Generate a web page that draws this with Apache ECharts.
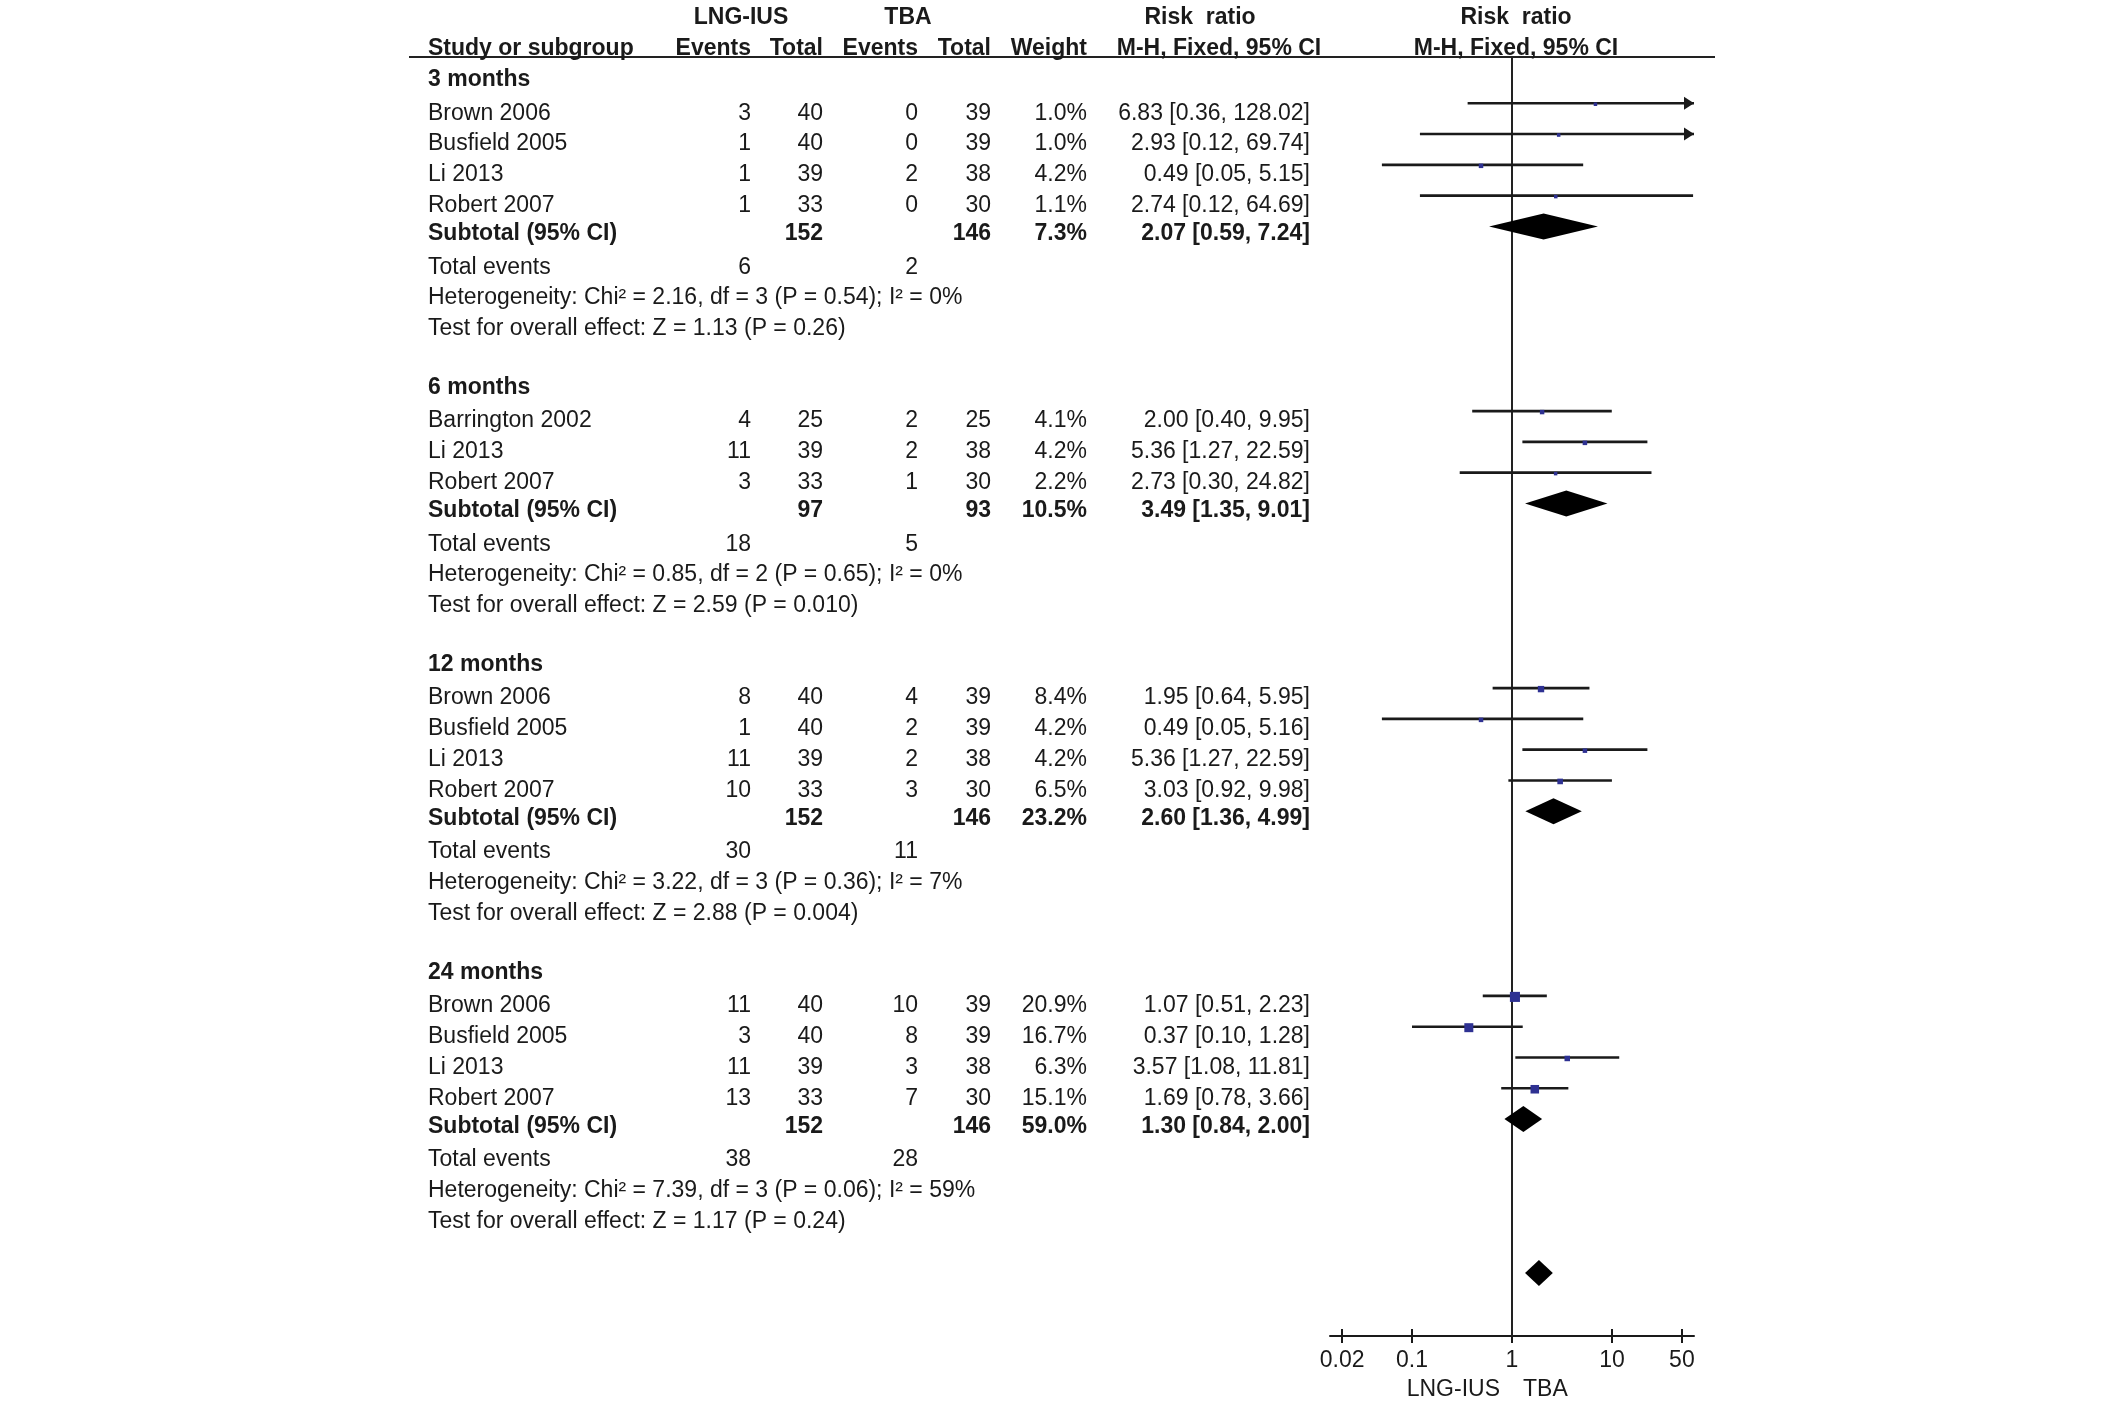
<!DOCTYPE html>
<html><head><meta charset="utf-8">
<script src="https://cdn.jsdelivr.net/npm/echarts@6/dist/echarts.min.js"></script>
<style>html,body{margin:0;padding:0;background:#fff}#c{width:2126px;height:1421px}</style>
</head><body><div id="c"></div>
<script>
// ---------------- DATA ----------------
const groupNames = ['3 months', '6 months', '12 months', '24 months'];
const studyNames = [
  ['Brown 2006', 'Busfield 2005', 'Li 2013', 'Robert 2007'],
  ['Barrington 2002', 'Li 2013', 'Robert 2007'],
  ['Brown 2006', 'Busfield 2005', 'Li 2013', 'Robert 2007'],
  ['Brown 2006', 'Busfield 2005', 'Li 2013', 'Robert 2007']
];
const lngEvents = [[3, 1, 1, 1], [4, 11, 3], [8, 1, 11, 10], [11, 3, 11, 13]];
const lngTotal  = [[40, 40, 39, 33], [25, 39, 33], [40, 40, 39, 33], [40, 40, 39, 33]];
const tbaEvents = [[0, 0, 2, 0], [2, 2, 1], [4, 2, 2, 3], [10, 8, 3, 7]];
const tbaTotal  = [[39, 39, 38, 30], [25, 38, 30], [39, 39, 38, 30], [39, 39, 38, 30]];
const weights   = [[1.0, 1.0, 4.2, 1.1], [4.1, 4.2, 2.2], [8.4, 4.2, 4.2, 6.5], [20.9, 16.7, 6.3, 15.1]];
const riskRatio = [[6.83, 2.93, 0.49, 2.74], [2.00, 5.36, 2.73], [1.95, 0.49, 5.36, 3.03], [1.07, 0.37, 3.57, 1.69]];
const ciLow     = [[0.36, 0.12, 0.05, 0.12], [0.40, 1.27, 0.30], [0.64, 0.05, 1.27, 0.92], [0.51, 0.10, 1.08, 0.78]];
const ciHigh    = [[128.02, 69.74, 5.15, 64.69], [9.95, 22.59, 24.82], [5.95, 5.16, 22.59, 9.98], [2.23, 1.28, 11.81, 3.66]];
const subTotalLng = [152, 97, 152, 152];
const subTotalTba = [146, 93, 146, 146];
const subWeight   = [7.3, 10.5, 23.2, 59.0];
const subRR       = [2.07, 3.49, 2.60, 1.30];
const subLow      = [0.59, 1.35, 1.36, 0.84];
const subHigh     = [7.24, 9.01, 4.99, 2.00];
const totalEventsLng = [6, 18, 30, 38];
const totalEventsTba = [2, 5, 11, 28];
const heterogeneityText = [
  'Heterogeneity: Chi² = 2.16, df = 3 (P = 0.54); I² = 0%',
  'Heterogeneity: Chi² = 0.85, df = 2 (P = 0.65); I² = 0%',
  'Heterogeneity: Chi² = 3.22, df = 3 (P = 0.36); I² = 7%',
  'Heterogeneity: Chi² = 7.39, df = 3 (P = 0.06); I² = 59%'
];
const overallEffectText = [
  'Test for overall effect: Z = 1.13 (P = 0.26)',
  'Test for overall effect: Z = 2.59 (P = 0.010)',
  'Test for overall effect: Z = 2.88 (P = 0.004)',
  'Test for overall effect: Z = 1.17 (P = 0.24)'
];
const overallRR = [1.86];
const overallLow = [1.35];
const overallHigh = [2.56];
const tickValues = [0.02, 0.1, 1, 10, 50];
const tickLabels = ['0.02', '0.1', '1', '10', '50'];
const favoursLabels = ['LNG-IUS', 'TBA'];

// ---------------- LAYOUT ----------------
const W = 2126, H = 1421;
const ROW0_Y = 81, ROW_H = 30.78;
const GRID_TOP = 57, AXIS_Y = 1336;
const Y_MIN = (GRID_TOP - ROW0_Y) / ROW_H;
const Y_MAX = (AXIS_Y - ROW0_Y) / ROW_H;
const PLOT_LEFT = 1330, PLOT_W = 364;
const X_MIN = -1.82, X_MAX = 1.82;
const MARK_DY = -8.5;
const TEXT_DY = 1.5;
const TIGHT_DY = -2.7;
const FONT = '"Liberation Sans", Arial, Helvetica, sans-serif';
const FS = 23;
const TXT = '#1a1a1a';
const SQ = '#2e3192';
const LINEC = '#1a1a1a';

const col = { study: 428, lngEv: 751, lngTot: 823, tbaEv: 918, tbaTot: 991, weight: 1087, rr: 1310 };
const lg = Math.log10;
const fmtRR = (e, l, h) => e.toFixed(2) + ' [' + l.toFixed(2) + ', ' + h.toFixed(2) + ']';

const cells = [];
function cell(x, row, text, align, bold, dy) { cells.push({ x, row, text: String(text), align, bold: !!bold, dy: dy || 0 }); }
const studyMarks = [];
const diamondMarks = [];

const HEAD1 = (16 - ROW0_Y) / ROW_H, HEAD2 = (46.7 - ROW0_Y) / ROW_H;
cell(741, HEAD1, 'LNG-IUS', 'center', true);
cell(908, HEAD1, 'TBA', 'center', true);
cell(1200, HEAD1, 'Risk  ratio', 'center', true);
cell(1516, HEAD1, 'Risk  ratio', 'center', true);
cell(col.study, HEAD2, 'Study or subgroup', 'left', true);
cell(col.lngEv, HEAD2, 'Events', 'right', true);
cell(col.lngTot, HEAD2, 'Total', 'right', true);
cell(col.tbaEv, HEAD2, 'Events', 'right', true);
cell(col.tbaTot, HEAD2, 'Total', 'right', true);
cell(col.weight, HEAD2, 'Weight', 'right', true);
cell(1219, HEAD2, 'M-H, Fixed, 95% CI', 'center', true);
cell(1516, HEAD2, 'M-H, Fixed, 95% CI', 'center', true);

let r = 0;
groupNames.forEach((g, gi) => {
  cell(col.study, r, g, 'left', true, TIGHT_DY); r++;
  studyNames[gi].forEach((s, si) => {
    cell(col.study, r, s, 'left');
    cell(col.lngEv, r, lngEvents[gi][si], 'right');
    cell(col.lngTot, r, lngTotal[gi][si], 'right');
    cell(col.tbaEv, r, tbaEvents[gi][si], 'right');
    cell(col.tbaTot, r, tbaTotal[gi][si], 'right');
    cell(col.weight, r, weights[gi][si].toFixed(1) + '%', 'right');
    cell(col.rr, r, fmtRR(riskRatio[gi][si], ciLow[gi][si], ciHigh[gi][si]), 'right');
    studyMarks.push([lg(riskRatio[gi][si]), r, lg(ciLow[gi][si]), lg(ciHigh[gi][si]), weights[gi][si]]);
    r++;
  });
  cell(col.study, r, 'Subtotal (95% CI)', 'left', true, TIGHT_DY);
  cell(col.lngTot, r, subTotalLng[gi], 'right', true, TIGHT_DY);
  cell(col.tbaTot, r, subTotalTba[gi], 'right', true, TIGHT_DY);
  cell(col.weight, r, subWeight[gi].toFixed(1) + '%', 'right', true, TIGHT_DY);
  cell(col.rr, r, fmtRR(subRR[gi], subLow[gi], subHigh[gi]), 'right', true, TIGHT_DY);
  diamondMarks.push([lg(subRR[gi]), r, lg(subLow[gi]), lg(subHigh[gi])]);
  r++;
  cell(col.study, r, 'Total events', 'left');
  cell(col.lngEv, r, totalEventsLng[gi], 'right');
  cell(col.tbaEv, r, totalEventsTba[gi], 'right');
  r++;
  cell(col.study, r, heterogeneityText[gi], 'left'); r++;
  cell(col.study, r, overallEffectText[gi], 'left'); r++;
  r++;
});
diamondMarks.push([lg(overallRR[0]), r, lg(overallLow[0]), lg(overallHigh[0])]);

const chart = echarts.init(document.getElementById('c'), null, { renderer: 'canvas', width: W, height: H });

const tickPos = tickValues.map(lg);
const option = {
  animation: false,
  backgroundColor: '#fff',
  grid: [
    { left: PLOT_LEFT, width: PLOT_W, top: GRID_TOP, height: AXIS_Y - GRID_TOP, containLabel: false },
    { left: 0, width: W, top: GRID_TOP, height: AXIS_Y - GRID_TOP, containLabel: false }
  ],
  xAxis: [
    {
      type: 'value', gridIndex: 0, min: X_MIN, max: X_MAX, position: 'bottom',
      axisLine: { show: true, onZero: false, lineStyle: { color: LINEC, width: 2 } },
      axisTick: { show: true, length: 7, inside: false, lineStyle: { color: LINEC, width: 2 }, customValues: tickPos },
      axisLabel: { show: true, margin: 13, color: TXT, fontSize: FS, fontFamily: FONT,
        customValues: tickPos,
        formatter: v => {
          let bi = 0, bd = Infinity;
          tickPos.forEach((t, i) => { const d = Math.abs(t - v); if (d < bd) { bd = d; bi = i; } });
          return tickLabels[bi];
        } },
      splitLine: { show: false }
    },
    {
      type: 'value', gridIndex: 0, min: X_MIN, max: X_MAX, position: 'bottom',
      axisLine: { show: false, onZero: false },
      axisTick: { show: true, length: 7, inside: true, lineStyle: { color: LINEC, width: 2 }, customValues: tickPos },
      axisLabel: { show: false },
      splitLine: { show: false }
    },
    { type: 'value', gridIndex: 1, min: 0, max: W, show: false, axisLine: { onZero: false }, splitLine: { show: false } }
  ],
  yAxis: [
    { type: 'value', gridIndex: 0, inverse: true, min: Y_MIN, max: Y_MAX, show: false, axisLine: { onZero: false }, splitLine: { show: false } },
    { type: 'value', gridIndex: 1, inverse: true, min: Y_MIN, max: Y_MAX, show: false, axisLine: { onZero: false }, splitLine: { show: false } }
  ],
  series: [
    {
      type: 'line', xAxisIndex: 0, yAxisIndex: 0, symbol: 'none', silent: true,
      data: [[0, Y_MIN], [0, Y_MAX]],
      lineStyle: { color: '#222', width: 2 }, z: 1
    },
    {
      type: 'line', xAxisIndex: 2, yAxisIndex: 1, symbol: 'none', silent: true,
      data: [[409, Y_MIN], [1715, Y_MIN]],
      lineStyle: { color: '#222', width: 2 }, z: 1
    },
    {
      type: 'custom', xAxisIndex: 2, yAxisIndex: 1, silent: true, z: 3,
      data: cells.map((c, i) => [c.x, c.row, i]),
      encode: { x: 0, y: 1 },
      renderItem: (params, api) => {
        const c = cells[api.value(2)];
        const p = api.coord([api.value(0), api.value(1)]);
        return {
          type: 'text', x: p[0], y: p[1] + TEXT_DY + c.dy,
          style: { text: c.text, fill: TXT, align: c.align, verticalAlign: 'middle',
            font: (c.bold ? 'bold ' : '') + FS + 'px ' + FONT }
        };
      }
    },
    {
      type: 'custom', xAxisIndex: 0, yAxisIndex: 0, silent: true, z: 4, clip: false,
      data: studyMarks,
      encode: { x: 0, y: 1 },
      renderItem: (params, api) => {
        const row = api.value(1);
        const est = api.coord([api.value(0), row]);
        const y = est[1] + MARK_DY;
        const lo = api.value(2), hi = api.value(3);
        const xl = api.coord([Math.max(lo, X_MIN), row])[0];
        const xh = api.coord([Math.min(hi, X_MAX), row])[0];
        const s = Math.max(3.5, 2.2 * Math.sqrt(api.value(4)));
        const children = [
          { type: 'line', shape: { x1: xl, y1: y, x2: xh, y2: y }, style: { stroke: LINEC, lineWidth: 2.6 } },
          { type: 'rect', shape: { x: est[0] - s / 2, y: y - s / 2 + 1, width: s, height: s }, style: { fill: SQ } }
        ];
        if (hi > X_MAX) {
          children.push({ type: 'polygon', shape: { points: [[xh, y], [xh - 10, y - 6.5], [xh - 10, y + 6.5]] }, style: { fill: LINEC } });
        }
        if (lo < X_MIN) {
          children.push({ type: 'polygon', shape: { points: [[xl, y], [xl + 10, y - 6.5], [xl + 10, y + 6.5]] }, style: { fill: LINEC } });
        }
        return { type: 'group', children };
      }
    },
    {
      type: 'custom', xAxisIndex: 0, yAxisIndex: 0, silent: true, z: 4, clip: false,
      data: diamondMarks,
      encode: { x: 0, y: 1 },
      renderItem: (params, api) => {
        const row = api.value(1);
        const c = api.coord([api.value(0), row]);
        const y = c[1] + MARK_DY;
        const xl = api.coord([api.value(2), row])[0];
        const xh = api.coord([api.value(3), row])[0];
        return { type: 'polygon', shape: { points: [[xl, y], [c[0], y - 13], [xh, y], [c[0], y + 13]] }, style: { fill: '#000' } };
      }
    }
  ]
};
chart.setOption(option);

const x0 = chart.convertToPixel({ xAxisIndex: 0 }, 0);
chart.setOption({
  graphic: [
    { type: 'text', x: x0 - 12, y: 1390, silent: true,
      style: { text: favoursLabels[0], fill: TXT, align: 'right', verticalAlign: 'middle', font: FS + 'px ' + FONT } },
    { type: 'text', x: x0 + 11, y: 1390, silent: true,
      style: { text: favoursLabels[1], fill: TXT, align: 'left', verticalAlign: 'middle', font: FS + 'px ' + FONT } }
  ]
});
</script>
</body></html>
